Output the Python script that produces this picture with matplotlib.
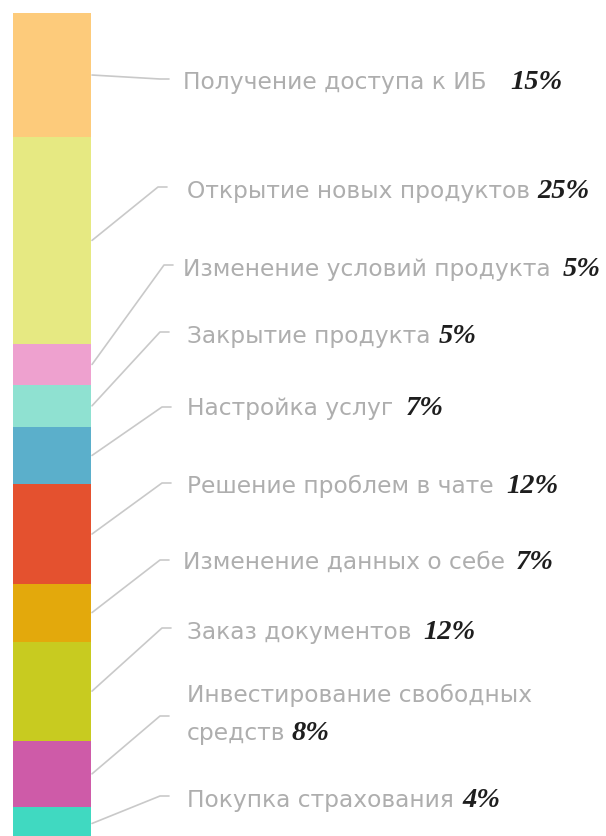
import matplotlib
matplotlib.use("Agg")
import matplotlib.pyplot as plt

# Share of requests by topic, %
categories = [
    "Получение доступа к ИБ",
    "Открытие новых продуктов",
    "Изменение условий продукта",
    "Закрытие продукта",
    "Настройка услуг",
    "Решение проблем в чате",
    "Изменение данных о себе",
    "Заказ документов",
    "Инвестирование свободных\nсредств",
    "Покупка страхования",
]
shares = [15, 25, 5, 5, 7, 12, 7, 12, 8, 4]
pct_labels = [f"{v}%" for v in shares]

colors = ["#FDCB7B", "#E6E982", "#EEA1CF", "#8FE1D1", "#5BAFCB",
          "#E4512F", "#E3A90C", "#C8CB20", "#CE5BA8", "#40D9C1"]

# Layout (figure pixels): label baselines and gaps before the percentage
label_base_px = [89, 198, 276, 343, 415, 493, 569, 639, 740, 807]
label_x_px = [183, 187, 183, 187, 187, 187, 183, 187, 187, 187]
pct_gap = [24, 7, 12, 8, 13, 13, 11, 12, 6, 9]
elbow_px = [(160, 80), (158, 188), (164, 266), (160, 333), (162, 408),
            (162, 484), (160, 561), (162, 629), (160, 717), (160, 797)]

W, H = 606, 837
top_px, px_per_pct = 14, 8.27

fig = plt.figure(figsize=(W / 100, H / 100), dpi=100)
ax = fig.add_axes([0, 0, 1, 1])
ax.set_xlim(0, W)
ax.set_ylim((H - top_px) / px_per_pct, -top_px / px_per_pct)
ax.axis("off")


def to_pct(y_px):
    return (y_px - top_px) / px_per_pct


bar_x, bar_w = 52, 78
bottom = 0
mids = []
for v, c in zip(shares, colors):
    ax.bar(bar_x, v, width=bar_w, bottom=bottom, color=c, linewidth=0)
    mids.append(bottom + v / 2)
    bottom += v

edge_x = bar_x + bar_w / 2 + 1
line_kw = dict(color="#C9C9C9", lw=1.2, solid_capstyle="round")
for m, (ex, ey) in zip(mids, elbow_px):
    ax.plot([edge_x, ex, ex + 9], [m, to_pct(ey), to_pct(ey)], **line_kw)

label_font = dict(family="DejaVu Sans", fontsize=16.8, color="#AEAEAE")
pct_font = dict(family="Liberation Serif", fontsize=20.5, fontweight="bold",
                fontstyle="italic", color="#1E1E1E")

for i, (cat, pct) in enumerate(zip(categories, pct_labels)):
    lines = cat.split("\n")
    y = to_pct(label_base_px[i])
    if len(lines) == 2:
        ax.text(label_x_px[i], to_pct(label_base_px[i] - 38), lines[0],
                va="baseline", ha="left", **label_font)
    t = ax.text(label_x_px[i], y, lines[-1], va="baseline", ha="left",
                **label_font)
    ax.annotate(pct, xy=(1, y), xycoords=(t, "data"),
                xytext=(pct_gap[i], 0), textcoords="offset pixels",
                va="baseline", ha="left", **pct_font)

fig.savefig("out.png", dpi=100, facecolor="white")
